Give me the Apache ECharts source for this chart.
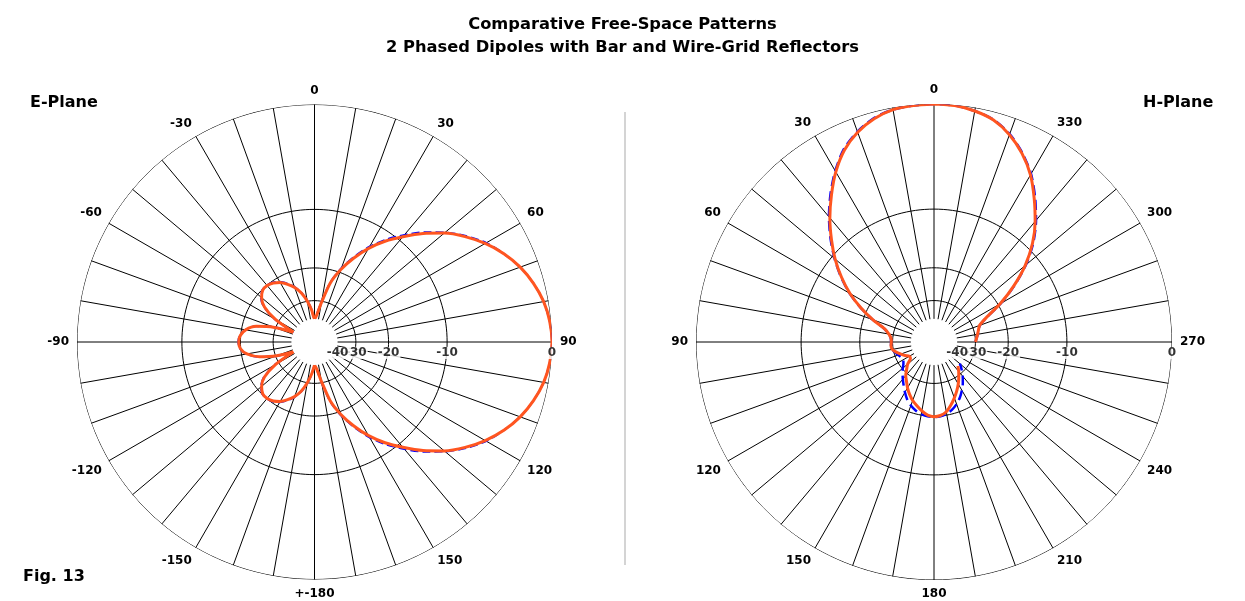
<!DOCTYPE html>
<html>
<head>
<meta charset="utf-8">
<title>Comparative Free-Space Patterns</title>
<script src="https://cdn.jsdelivr.net/npm/echarts@6.0.0/dist/echarts.min.js"></script>
<style>
	html, body { margin: 0; padding: 0; background: #fff; }
	#chart { width: 1245px; height: 601px; }
</style>
</head>
<body>
<div id="chart"></div>
<script>
// E-Plane, azimuth -180..180 deg, step 5 (dB)
const eAngles = [-180, -175, -170, -165, -160, -155, -150, -145, -140, -135, -130, -125, -120, -115, -110, -105, -100, -95, -90, -85, -80, -75, -70, -65, -60, -55, -50, -45, -40, -35, -30, -25, -20, -15, -10, -5,
	0, 5, 10, 15, 20, 25, 30, 35, 40, 45, 50, 55, 60, 65, 70, 75, 80, 85, 90, 95, 100, 105, 110, 115, 120, 125, 130, 135, 140, 145, 150, 155, 160, 165, 170, 175, 180]
// wire-grid reflector (orange)
const eWireGrid = [-40, -34.5, -30, -26.5, -24.2, -22.6, -21.3, -20.5, -20.1, -20.2, -21.2, -23.3, -28.5, -40, -30.5, -24.5, -21.3, -19.9, -19.6, -19.9, -21, -23.5, -29.5, -40, -28.5, -23.3, -21.2, -20.2, -20.1, -20.5, -21.3, -22.6, -24.2, -26.5, -30, -34.5,
	-40, -37, -30.5, -23.3, -19.3, -16.2, -13.5, -11.3, -9.4, -7.5, -5.8, -4.4, -3.2, -2.2, -1.4, -0.8, -0.35, -0.1, 0, -0.1, -0.35, -0.8, -1.4, -2.2, -3.2, -4.4, -5.8, -7.5, -9.4, -11.3, -13.5, -16.2, -19.3, -23.3, -30.5, -37, -40]
// bar reflector (blue dashed)
const eBar = [-40, -34.2, -29.8, -26.3, -24, -22.4, -21.1, -20.3, -20, -20.1, -21, -23, -28, -40, -30.2, -24.3, -21.2, -19.8, -19.5, -19.8, -20.9, -23.3, -29, -40, -28, -23, -21, -20.1, -20, -20.3, -21.1, -22.4, -24, -26.3, -29.8, -34.2,
	-40, -36.5, -30, -23, -19, -15.9, -13.2, -11, -9.1, -7.3, -5.7, -4.3, -3.1, -2.2, -1.4, -0.8, -0.35, -0.1, 0, -0.1, -0.35, -0.8, -1.4, -2.2, -3.1, -4.3, -5.7, -7.3, -9.1, -11, -13.2, -15.9, -19, -23, -30, -36.5, -40]

// H-Plane, azimuth 0..360 deg (counter-clockwise), step 5 (dB), null = below -40
const hAngles = [0, 5, 10, 15, 20, 25, 30, 35, 40, 45, 50, 55, 60, 65, 70, 75, 80, 85, 90, 95, 100, 105, 110, 115, 120, 125, 130, 135, 140, 145, 150, 155, 160, 165, 170, 175,
	180, 185, 190, 195, 200, 205, 210, 215, 220, 225, 230, 235, 240, 245, 250, 255, 260, 265, 270, 275, 280, 285, 290, 295, 300, 305, 310, 315, 320, 325, 330, 335, 340, 345, 350, 355, 360]
const hWireGrid = [0, -0.05, -0.15, -0.5, -1.1, -2, -3.3, -4.9, -6.6, -8.5, -10.5, -12.8, -15.4, -18.6, -22.3, -26.4, -28.3, -29.3, -29.5, -29.3, -29.6, -31, -32.8, -34.5, -36.5, -36.3, -33.2, -31.2, -29, -27.5, -25.8, -24.3, -23, -22, -21, -20.2,
	-19.9, -20.1, -20.8, -22.2, -23.8, -25.5, -27.3, -29.3, -31.3, -33.5, null, null, null, null, null, null, null, null, -30, -29.5, -28.9, -28.2, -27.3, -24.3, -19.5, -15.4, -11.9, -9.2, -7.1, -5.3, -3.6, -2.3, -1.3, -0.6, -0.25, -0.05, 0]
const hBar = [0, -0.05, -0.15, -0.45, -1.05, -1.9, -3.2, -4.75, -6.45, -8.35, -10.4, -12.7, -15.3, -18.5, -22.2, -26.3, -28.2, -29.2, -29.4, -29.3, -29.6, -30.5, -31.5, -32.3, -32.6, -31.8, -30.3, -28.8, -27.3, -25.8, -24.2, -22.7, -21.6, -20.8, -20.2, -19.9,
	-19.8, -19.9, -20.3, -21, -22, -23.3, -24.9, -26.7, -28.7, -31, -33.5, null, null, null, null, null, null, null, -30, -29.5, -28.8, -28.1, -27.2, -24.2, -19.35, -15.25, -11.75, -9.05, -6.95, -5.15, -3.5, -2.25, -1.25, -0.58, -0.24, -0.05, 0]

const ringLevels = [0, -10, -20, -30]
const scaleLabels = [0, -10, -20, -30, -40]

// ARRL log scale: radius shrinks to 0.89 for every 2 dB down
function arrl(db) {
	return Math.pow(0.89, -db / 2)
}
const rMin = arrl(-40)

const eCenter = [314.5, 342]
const hCenter = [934, 342]
const eR = 237.5
const hR = 238

const orange = "#ff5520"
const blue = "#0000ff"
const font = "DejaVu Sans"

function pattern(angles, vals) {
	return angles.map((a, i) => (vals[i] == null ? ["-", a] : [arrl(Math.max(vals[i], -40)), a]))
}

function ring(db, from, to) {
	let pts = []
	for (let a = from; a <= to; a += 2) pts.push([arrl(db), a])
	return pts
}

function angleAxis(min, max, startAngle, clockwise, fmt) {
	return {
		type: "value",
		min: min,
		max: max,
		interval: 10,
		startAngle: startAngle,
		clockwise: clockwise,
		axisLine: { show: false },
		axisTick: { show: false },
		axisLabel: {
			margin: 8,
			color: "#000",
			fontFamily: font,
			fontWeight: "bold",
			fontSize: 12,
			formatter: fmt,
		},
		splitLine: { show: true, lineStyle: { color: "#000", width: 1 } },
	}
}

const radiusAxis = (idx) => ({
	polarIndex: idx,
	type: "value",
	min: rMin,
	max: 1,
	axisLine: { show: false },
	axisTick: { show: false },
	axisLabel: { show: false },
	splitLine: { show: false },
})

let series = []
ringLevels.forEach((db) => {
	series.push({
		type: "line", coordinateSystem: "polar", polarIndex: 0, silent: true, symbol: "none", z: 1,
		lineStyle: { color: "#000", width: 1 }, data: ring(db, -180, 180),
	})
	series.push({
		type: "line", coordinateSystem: "polar", polarIndex: 1, silent: true, symbol: "none", z: 1,
		lineStyle: { color: "#000", width: 1 }, data: ring(db, 0, 360),
	})
})

const lines = [
	[0, eAngles, eBar, blue, 2, "dashed"],
	[0, eAngles, eWireGrid, orange, 3, "solid"],
	[1, hAngles, hBar, blue, 2.5, "dashed"],
	[1, hAngles, hWireGrid, orange, 3, "solid"],
]
lines.forEach((l, i) => {
	series.push({
		type: "line", coordinateSystem: "polar", polarIndex: l[0], silent: true, symbol: "none",
		smooth: 0.25, connectNulls: false, z: 3 + i,
		lineStyle: { color: l[3], width: l[4], type: l[5] },
		data: pattern(l[1], l[2]),
	})
})

// dB scale labels along the horizontal spoke on the right
;[[0, 90], [1, 270]].forEach((p) => {
	series.push({
		type: "scatter", coordinateSystem: "polar", polarIndex: p[0], silent: true, symbolSize: 0, z: 10,
		label: {
			show: true, position: "inside", offset: [0, 11],
			formatter: (d) => String(d.data.name),
			color: "#000", fontFamily: font, fontWeight: "bold", fontSize: 12,
			backgroundColor: "#fff", padding: [0, 1],
		},
		data: scaleLabels.map((db) => ({ name: db, value: [arrl(db), p[1]] })),
	})
})

const titleStyle = { fontFamily: font, fontWeight: "bold", fontSize: 16.3, color: "#000" }
const labelStyle = { fontFamily: font, fontWeight: "bold", fontSize: 16, color: "#000" }

const myChart = echarts.init(document.getElementById("chart"))
const option = {
	animation: false,
	backgroundColor: "#fff",
	title: [
		{ text: "Comparative Free-Space Patterns", left: "center", top: 17, padding: 0, textStyle: titleStyle },
		{ text: "2 Phased Dipoles with Bar and Wire-Grid Reflectors", left: "center", top: 40, padding: 0, textStyle: titleStyle },
		{ text: "E-Plane", left: 30, top: 95, padding: 0, textStyle: labelStyle },
		{ text: "H-Plane", left: 1143, top: 95, padding: 0, textStyle: labelStyle },
		{ text: "Fig. 13", left: 23, top: 569, padding: 0, textStyle: labelStyle },
	],
	polar: [
		{ center: eCenter, radius: [eR * rMin, eR] },
		{ center: hCenter, radius: [hR * rMin, hR] },
	],
	angleAxis: [
		Object.assign(angleAxis(-180, 180, 270, true, (v) => (v === -180 ? "+-180" : v === 180 || v % 30 !== 0 ? "" : String(v))), { polarIndex: 0 }),
		Object.assign(angleAxis(0, 360, 90, false, (v) => (v === 360 || v % 30 !== 0 ? "" : String(v))), { polarIndex: 1 }),
	],
	radiusAxis: [radiusAxis(0), radiusAxis(1)],
	graphic: [
		{ type: "line", shape: { x1: 625, y1: 112, x2: 625, y2: 565 }, style: { stroke: "#d4d4d4", lineWidth: 2 }, silent: true },
	],
	series: series,
}
myChart.setOption(option)
</script>
</body>
</html>
